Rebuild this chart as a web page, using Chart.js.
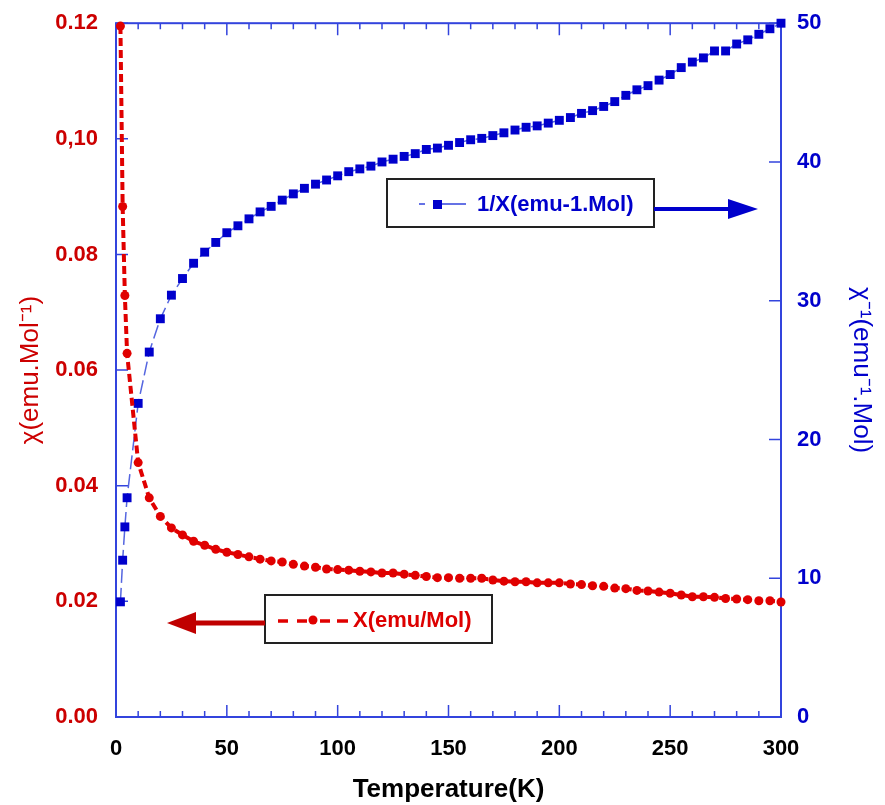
<!DOCTYPE html>
<html>
<head>
<meta charset="utf-8">
<title>Susceptibility vs temperature</title>
<script src="https://cdn.jsdelivr.net/npm/chart.js@4.4.1/dist/chart.umd.min.js"></script>
<style>
    html, body { margin: 0; padding: 0; background: #fff; }
    #wrap { width: 885px; height: 805px; }
</style>
</head>
<body>
<div id="wrap"><canvas id="chiChart" width="885" height="805"></canvas></div>
<script>
// temperatures (K)
const temps = [
    2, 3, 4, 5, 10, 15, 20, 25, 30, 35, 40, 45, 50, 55, 60, 65, 70, 75, 80, 85,
    90, 95, 100, 105, 110, 115, 120, 125, 130, 135, 140, 145, 150, 155, 160,
    165, 170, 175, 180, 185, 190, 195, 200, 205, 210, 215, 220, 225, 230, 235,
    240, 245, 250, 255, 260, 265, 270, 275, 280, 285, 290, 295, 300,
];

// X (emu/Mol)
const chiValues = [
    0.1195, 0.0883, 0.0729, 0.0629, 0.0440, 0.0379, 0.0347, 0.0327, 0.0315,
    0.0304, 0.0297, 0.0290, 0.0285, 0.0281, 0.0277, 0.0273, 0.0270, 0.0268,
    0.0264, 0.0261, 0.0259, 0.0256, 0.0255, 0.0254, 0.0252, 0.0251, 0.0249,
    0.0249, 0.0247, 0.0245, 0.0243, 0.0241, 0.0241, 0.0240, 0.0240, 0.0240,
    0.0237, 0.0235, 0.0234, 0.0234, 0.0232, 0.0232, 0.0232, 0.0230, 0.0229,
    0.0227, 0.0226, 0.0223, 0.0222, 0.0219, 0.0218, 0.0216, 0.0214, 0.0211,
    0.0208, 0.0208, 0.0207, 0.0205, 0.0204, 0.0203, 0.0201, 0.0201, 0.0199,
];

// 1/X (emu-1.Mol)
const invChiValues = [
    8.3, 11.3, 13.7, 15.8, 22.6, 26.3, 28.7, 30.4, 31.6, 32.7, 33.5, 34.2,
    34.9, 35.4, 35.9, 36.4, 36.8, 37.25, 37.7, 38.1, 38.4, 38.7, 39.0, 39.3,
    39.5, 39.7, 40.0, 40.2, 40.4, 40.6, 40.9, 41.0, 41.2, 41.4, 41.6, 41.7,
    41.9, 42.1, 42.3, 42.5, 42.6, 42.8, 43.0, 43.2, 43.5, 43.7, 44.0, 44.35,
    44.8, 45.2, 45.5, 45.9, 46.3, 46.8, 47.2, 47.5, 48.0, 48.0, 48.5, 48.8,
    49.2, 49.6, 50.0,
];

const tempTicks = [0, 50, 100, 150, 200, 250, 300];
const chiTicks = [0, 0.02, 0.04, 0.06, 0.08, 0.10, 0.12];
const chiTickLabels = ["0.00", "0.02", "0.04", "0.06", "0.08", "0,10", "0.12"];
const invChiTicks = [0, 10, 20, 30, 40, 50];

const axisBlue = "#3344dd";
const redText = "#cc0000";
const blueText = "#0000cc";

Chart.defaults.font.family = "Arial, 'Liberation Sans', sans-serif";

// box frame + inward tick marks
const frameTicksPlugin = {
    id: "frameTicks",
    beforeDatasetsDraw(chart) {
        const { ctx, chartArea: a, scales } = chart;
        ctx.save();
        ctx.strokeStyle = axisBlue;
        ctx.lineWidth = 2;
        ctx.strokeRect(a.left, a.top, a.right - a.left, a.bottom - a.top);

        ctx.lineWidth = 1.5;
        ctx.beginPath();
        for (let t = 10; t < 300; t += 10) {
            const x = scales.x.getPixelForValue(t);
            const len = t % 50 === 0 ? 12 : 6;
            ctx.moveTo(x, a.bottom);
            ctx.lineTo(x, a.bottom - len);
            ctx.moveTo(x, a.top);
            ctx.lineTo(x, a.top + len);
        }
        chiTicks.forEach(function (v) {
            const y = scales.y.getPixelForValue(v);
            ctx.moveTo(a.left, y);
            ctx.lineTo(a.left + 12, y);
        });
        invChiTicks.forEach(function (v) {
            const y = scales.y1.getPixelForValue(v);
            ctx.moveTo(a.right, y);
            ctx.lineTo(a.right - 12, y);
        });
        ctx.stroke();
        ctx.restore();
    },
};

function drawArrow(ctx, x1, x2, y, color, width, tipX, half) {
    ctx.strokeStyle = color;
    ctx.fillStyle = color;
    ctx.lineWidth = width;
    ctx.beginPath();
    ctx.moveTo(x1, y);
    ctx.lineTo(x2, y);
    ctx.stroke();
    ctx.beginPath();
    ctx.moveTo(x2, y - half);
    ctx.lineTo(tipX, y);
    ctx.lineTo(x2, y + half);
    ctx.closePath();
    ctx.fill();
}

// the two boxed legends with arrows pointing at their axes
const boxLegendPlugin = {
    id: "boxLegend",
    afterDraw(chart) {
        const ctx = chart.ctx;
        ctx.save();
        ctx.setLineDash([]);

        // 1/X legend
        ctx.strokeStyle = "#222";
        ctx.lineWidth = 2;
        ctx.strokeRect(387, 179, 267, 48);
        ctx.strokeStyle = "#3344dd";
        ctx.lineWidth = 1.5;
        ctx.beginPath();
        ctx.moveTo(419, 204);
        ctx.lineTo(425, 204);
        ctx.moveTo(442, 204);
        ctx.lineTo(466, 204);
        ctx.stroke();
        ctx.fillStyle = blueText;
        ctx.fillRect(433, 200, 9, 9);
        ctx.font = "bold 22px Arial, 'Liberation Sans', sans-serif";
        ctx.textBaseline = "middle";
        ctx.textAlign = "left";
        ctx.fillText("1/X(emu-1.Mol)", 477, 205);
        drawArrow(ctx, 654, 728, 209, "#0000cc", 4, 758, 10);

        // X legend
        ctx.strokeStyle = "#222";
        ctx.lineWidth = 2;
        ctx.strokeRect(265, 595, 227, 48);
        ctx.strokeStyle = "#e00000";
        ctx.lineWidth = 3.5;
        ctx.beginPath();
        [[278, 288], [297, 307], [320, 330], [337, 348]].forEach(function (d) {
            ctx.moveTo(d[0], 621);
            ctx.lineTo(d[1], 621);
        });
        ctx.stroke();
        ctx.fillStyle = "#e00000";
        ctx.beginPath();
        ctx.arc(313, 620, 4.5, 0, Math.PI * 2);
        ctx.fill();
        ctx.fillStyle = "#dd0000";
        ctx.fillText("X(emu/Mol)", 353, 621);
        drawArrow(ctx, 265, 196, 623, "#c00000", 5, 167, 11);

        ctx.restore();
    },
};

const chiData = temps.map(function (t, i) { return { x: t, y: chiValues[i] }; });
const invChiData = temps.map(function (t, i) { return { x: t, y: invChiValues[i] }; });

new Chart(document.getElementById("chiChart").getContext("2d"), {
    type: "line",
    data: {
        datasets: [
            {
                label: "X(emu/Mol)",
                data: chiData,
                yAxisID: "y",
                borderColor: "#e00000",
                backgroundColor: "#e00000",
                borderWidth: 4,
                borderDash: [8, 4],
                pointStyle: "circle",
                pointRadius: 4.5,
                pointBorderWidth: 0,
                pointBackgroundColor: "#e00000",
                tension: 0,
                clip: false,
            },
            {
                label: "1/X(emu-1.Mol)",
                data: invChiData,
                yAxisID: "y1",
                borderColor: "#5566e0",
                backgroundColor: "#0000cc",
                borderWidth: 1.5,
                borderDash: [14, 5],
                pointStyle: "rect",
                pointRadius: 6.3,
                pointBorderWidth: 0,
                pointBackgroundColor: "#0000cc",
                tension: 0,
                clip: false,
            },
        ],
    },
    options: {
        responsive: false,
        animation: false,
        layout: { padding: { top: 18, left: 0, right: 0, bottom: 0 } },
        plugins: {
            legend: { display: false },
            tooltip: { enabled: false },
        },
        scales: {
            x: {
                type: "linear",
                position: "bottom",
                min: 0,
                max: 300,
                afterBuildTicks: function (scale) {
                    scale.ticks = tempTicks.map(function (v) { return { value: v }; });
                },
                afterFit: function (scale) { scale.height = 88; },
                grid: { display: false },
                border: { display: false },
                ticks: {
                    color: "#000",
                    padding: 11,
                    maxRotation: 0,
                    font: { size: 22, weight: "bold" },
                },
                title: {
                    display: true,
                    text: "Temperature(K)",
                    color: "#000",
                    font: { size: 26, weight: "bold" },
                    padding: { top: 0, bottom: 0 },
                },
            },
            y: {
                type: "linear",
                position: "left",
                min: 0,
                max: 0.12,
                afterBuildTicks: function (scale) {
                    scale.ticks = chiTicks.map(function (v) { return { value: v }; });
                },
                afterFit: function (scale) { scale.width = 116; },
                grid: { display: false },
                border: { display: false },
                ticks: {
                    color: redText,
                    padding: 10,
                    font: { size: 22, weight: "bold" },
                    callback: function (value, index) { return chiTickLabels[index]; },
                },
                title: {
                    display: true,
                    text: "\u03c7(emu.Mol\u207b\u00b9)",
                    color: redText,
                    font: { size: 26, weight: "normal" },
                    padding: { top: 15, bottom: 0 },
                },
            },
            y1: {
                type: "linear",
                position: "right",
                min: 0,
                max: 50,
                afterBuildTicks: function (scale) {
                    scale.ticks = invChiTicks.map(function (v) { return { value: v }; });
                },
                afterFit: function (scale) { scale.width = 104; },
                grid: { display: false },
                border: { display: false },
                ticks: {
                    color: blueText,
                    padding: 8,
                    font: { size: 22, weight: "bold" },
                },
                title: {
                    display: true,
                    text: "\u03c7\u207b\u00b9(emu\u207b\u00b9.Mol)",
                    color: blueText,
                    font: { size: 26, weight: "normal" },
                    padding: { top: 8, bottom: 0 },
                },
            },
        },
    },
    plugins: [frameTicksPlugin, boxLegendPlugin],
});
</script>
</body>
</html>
